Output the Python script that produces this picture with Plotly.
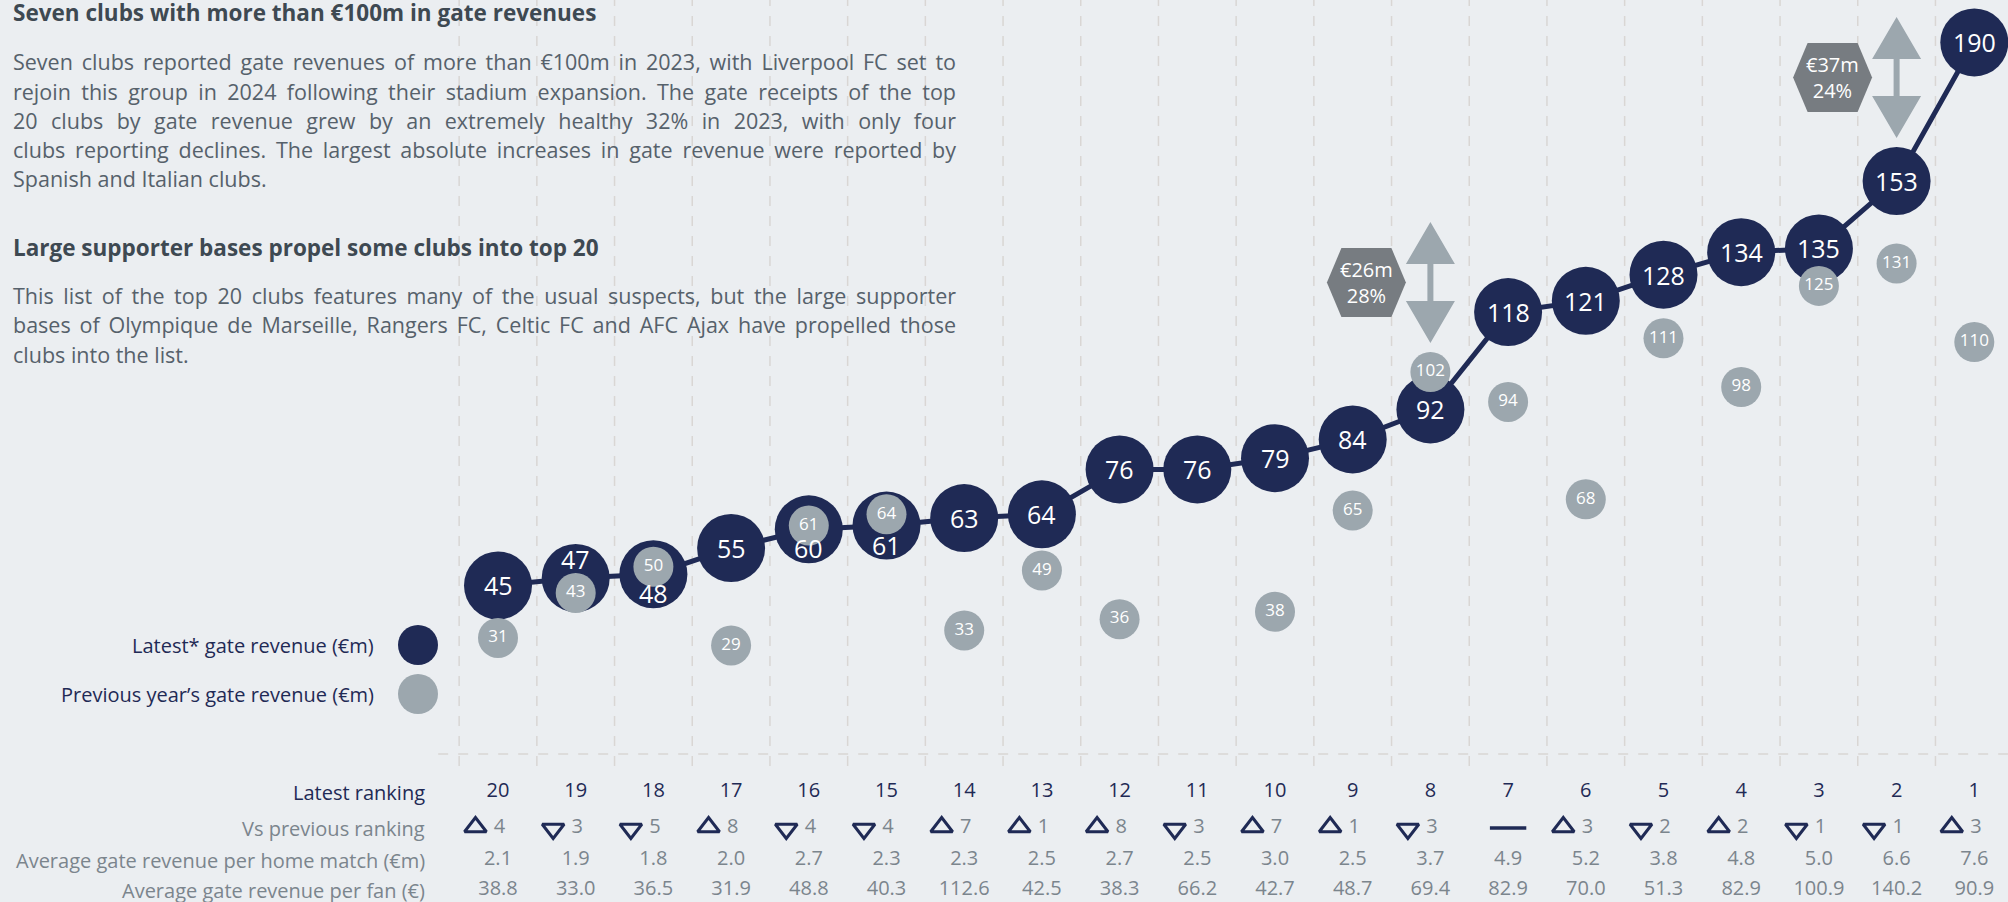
import json

import plotly.graph_objects as go

# ---- data -----------------------------------------------------------------
ranks = list(range(20, 0, -1))
latest = [45, 47, 48, 55, 60, 61, 63, 64, 76, 76, 79, 84, 92, 118, 121, 128, 134, 135, 153, 190]
previous = [31, 43, 50, 29, 61, 64, 33, 49, 36, None, 38, 65, 102, 94, 68, 111, 98, 125, 131, 110]
rank_change = [4, -3, -5, 8, -4, -4, 7, 1, 8, -3, 7, 1, -3, 0, 3, -2, 2, -1, -1, 3]
per_match = [2.1, 1.9, 1.8, 2.0, 2.7, 2.3, 2.3, 2.5, 2.7, 2.5, 3.0, 2.5, 3.7, 4.9, 5.2, 3.8, 4.8, 5.0, 6.6, 7.6]
per_fan = [38.8, 33.0, 36.5, 31.9, 48.8, 40.3, 112.6, 42.5, 38.3, 66.2, 42.7, 48.7, 69.4, 82.9, 70.0, 51.3,
           82.9, 100.9, 140.2, 90.9]
callout_ranks = [8, 2]  # gap to the club one place above

row_labels = ["Latest ranking", "Vs previous ranking",
              "Average gate revenue per home match (€m)", "Average gate revenue per fan (€)"]
legend_labels = ["Latest* gate revenue (€m)", "Previous year’s gate revenue (€m)"]

heading1 = "Seven clubs with more than €100m in gate revenues"
para1 = [
    "Seven clubs reported gate revenues of more than €100m in 2023, with Liverpool FC set to",
    "rejoin this group in 2024 following their stadium expansion. The gate receipts of the top",
    "20 clubs by gate revenue grew by an extremely healthy 32% in 2023, with only four",
    "clubs reporting declines. The largest absolute increases in gate revenue were reported by",
    "Spanish and Italian clubs.",
]
heading2 = "Large supporter bases propel some clubs into top 20"
para2 = [
    "This list of the top 20 clubs features many of the usual suspects, but the large supporter",
    "bases of Olympique de Marseille, Rangers FC, Celtic FC and AFC Ajax have propelled those",
    "clubs into the list.",
]

# ---- style ----------------------------------------------------------------
W, H = 2008, 902
BG = "#EBEEF1"
NAVY = "#1F2A55"
GREY = "#9CA7AE"
HEX = "#777C81"
HEAD = "#3E4952"
BODY = "#56616B"
TABLE_GREY = "#7B858D"
DASH = "#D9D6D4"
FONT = "Open Sans"

COL_PX, FIRST_COL_PX = 77.7, 498      # column spacing / first column centre
ZERO_PX, UNIT_PX = 754, 3.745         # baseline pixel / pixels per €m
TEXT_LEFT, TEXT_RIGHT = 11, 954       # justified text block

x_range = [-FIRST_COL_PX / COL_PX, (W - FIRST_COL_PX) / COL_PX]
y_range = [-(H - ZERO_PX) / UNIT_PX, ZERO_PX / UNIT_PX]


def ypx(p):
    """pixel row (from top) -> y data value"""
    return (ZERO_PX - p) / UNIT_PX


def paper_y(p):
    return 1 - p / H


xs = list(range(len(ranks)))
fig = go.Figure()

# dashed grid
shapes = []
for i in range(len(ranks) + 1):
    shapes.append(dict(type="line", xref="x", yref="y", x0=i - 0.5, x1=i - 0.5, y0=ypx(766), y1=y_range[1],
                       line=dict(color=DASH, width=1.5, dash="10px,10px"), layer="below"))
shapes.append(dict(type="line", xref="x", yref="y", x0=-0.77, x1=x_range[1], y0=0, y1=0,
                   line=dict(color=DASH, width=1.5, dash="10px,10px"), layer="below"))

# line + bubbles
fig.add_trace(go.Scatter(x=xs, y=latest, mode="lines", line=dict(color=NAVY, width=5), hoverinfo="skip"))
fig.add_trace(go.Scatter(x=xs, y=latest, mode="markers", marker=dict(size=68, color=NAVY), hoverinfo="skip"))
px_ = [x for x, v in zip(xs, previous) if v is not None]
pv = [v for v in previous if v is not None]
fig.add_trace(go.Scatter(x=px_, y=pv, mode="markers+text", text=[str(v) for v in pv],
                         textposition="middle center", textfont=dict(family=FONT, size=17, color="white"),
                         marker=dict(size=40, color=GREY), hoverinfo="skip"))

annotations = []
for x, cur, prev in zip(xs, latest, previous):
    shift = 0
    if prev is not None and abs(cur - prev) < 8:
        shift = 19 if cur >= prev else -19
    annotations.append(dict(x=x, y=cur, xref="x", yref="y", text=str(cur), showarrow=False, yshift=shift,
                            font=dict(family=FONT, size=25, color="white")))

# callouts: hexagon + double arrow
for r in callout_ranks:
    i = ranks.index(r)
    j = ranks.index(r - 1)
    gap = latest[j] - latest[i]
    pct = round(gap / latest[i] * 100)
    prev = previous[i]
    if prev is not None and prev > latest[i]:
        anchor, rad = prev, 20
    else:
        anchor, rad = latest[i], 34
    b = rad + 9
    arrow = [(0, b), (24.5, b + 42), (3, b + 42), (3, b + 79), (24.5, b + 79), (0, b + 121),
             (-24.5, b + 79), (-3, b + 79), (-3, b + 42), (-24.5, b + 42)]
    path = "M " + " L ".join(f"{px} {py}" for px, py in arrow) + " Z"
    shapes.append(dict(type="path", xref="x", yref="y", xsizemode="pixel", ysizemode="pixel",
                       xanchor=i, yanchor=anchor, path=path, fillcolor=GREY, line=dict(width=0)))
    cy = b + 60.5
    cx = -64
    hexa = [(-39.5, 0), (-25, 34.5), (25, 34.5), (39.5, 0), (25, -34.5), (-25, -34.5)]
    path = "M " + " L ".join(f"{cx + px} {cy + py}" for px, py in hexa) + " Z"
    shapes.append(dict(type="path", xref="x", yref="y", xsizemode="pixel", ysizemode="pixel",
                       xanchor=i, yanchor=anchor, path=path, fillcolor=HEX, line=dict(width=0)))
    annotations.append(dict(x=i, y=anchor, xref="x", yref="y", xshift=cx, yshift=cy, showarrow=False,
                            text=f"€{gap}m<br>{pct}%", font=dict(family=FONT, size=20, color="white")))

# ---- table below ---------------------------------------------------------
TS = 20
row_px = [792, 828, 860, 890]
fig.add_trace(go.Scatter(x=xs, y=[ypx(row_px[0])] * len(xs), mode="text", text=[str(r) for r in ranks],
                         textfont=dict(family=FONT, size=TS, color=NAVY), hoverinfo="skip"))
up = [x - 0.29 for x, c in zip(xs, rank_change) if c > 0]
down = [x - 0.29 for x, c in zip(xs, rank_change) if c < 0]
same = [x for x, c in zip(xs, rank_change) if c == 0]
fig.add_trace(go.Scatter(x=up, y=[ypx(row_px[1] - 1)] * len(up), mode="markers",
                         marker=dict(symbol="triangle-up-open", size=19, color=NAVY, line=dict(width=3, color=NAVY)),
                         hoverinfo="skip"))
fig.add_trace(go.Scatter(x=down, y=[ypx(row_px[1] + 1)] * len(down), mode="markers",
                         marker=dict(symbol="triangle-down-open", size=19, color=NAVY, line=dict(width=3, color=NAVY)),
                         hoverinfo="skip"))
fig.add_trace(go.Scatter(x=same, y=[ypx(row_px[1])] * len(same), mode="markers",
                         marker=dict(symbol="line-ew", size=26, color=NAVY, line=dict(width=3.5, color=NAVY)),
                         hoverinfo="skip"))
chg_x = [x + 0.02 for x, c in zip(xs, rank_change) if c != 0]
chg_t = [str(abs(c)) for c in rank_change if c != 0]
fig.add_trace(go.Scatter(x=chg_x, y=[ypx(row_px[1])] * len(chg_x), mode="text", text=chg_t,
                         textfont=dict(family=FONT, size=TS, color=TABLE_GREY), hoverinfo="skip"))
for p, vals in zip(row_px[2:], [per_match, per_fan]):
    fig.add_trace(go.Scatter(x=xs, y=[ypx(p)] * len(xs), mode="text", text=[f"{v:.1f}" for v in vals],
                             textfont=dict(family=FONT, size=TS, color=TABLE_GREY), hoverinfo="skip"))

for k, (lab, p) in enumerate(zip(row_labels, row_px)):
    annotations.append(dict(x=427 / W, y=paper_y(p), xref="paper", yref="paper", xanchor="right",
                            yanchor="middle", showarrow=False, text=lab,
                            font=dict(family=FONT, size=TS, color=NAVY if k == 0 else TABLE_GREY)))

# ---- legend ----------------------------------------------------------------
for lab, p, col in zip(legend_labels, [645, 694], [NAVY, GREY]):
    annotations.append(dict(x=376 / W, y=paper_y(p), xref="paper", yref="paper", xanchor="right",
                            yanchor="middle", showarrow=False, text=lab,
                            font=dict(family=FONT, size=20, color=NAVY)))
    shapes.append(dict(type="circle", xref="paper", yref="paper", xsizemode="pixel", ysizemode="pixel",
                       xanchor=418 / W, yanchor=paper_y(p), x0=-20, x1=20, y0=-20, y1=20,
                       fillcolor=col, line=dict(width=0)))


# ---- text block ------------------------------------------------------------
def add_line(text, p, size, color, bold=False):
    annotations.append(dict(x=TEXT_LEFT / W, y=paper_y(p), xref="paper", yref="paper", xanchor="left",
                            align="left", yanchor="middle", showarrow=False,
                            text=f"<b>{text}</b>" if bold else text,
                            font=dict(family=FONT, size=size, color=color)))


add_line(heading1, 13, 22.5, HEAD, bold=True)
for k, t in enumerate(para1):
    add_line(t, 62 + k * 29.2, 21.5, BODY)
add_line(heading2, 247, 22.5, HEAD, bold=True)
for k, t in enumerate(para2):
    add_line(t, 295 + k * 29.8, 21.5, BODY)

fig.update_layout(
    width=W, height=H, margin=dict(l=0, r=0, t=0, b=0),
    paper_bgcolor=BG, plot_bgcolor=BG, showlegend=False,
    xaxis=dict(range=x_range, visible=False, fixedrange=True),
    yaxis=dict(range=y_range, visible=False, fixedrange=True),
    shapes=shapes, annotations=annotations,
)

# page without body margin; paragraph lines (except the last of each) justified
justify = json.dumps(para1[:-1] + para2[:-1])
post = f"""
document.body.style.margin = '0';
document.body.style.background = '{BG}';
var justifyLines = {justify};
function justifyText() {{
  document.querySelectorAll('text.annotation-text').forEach(function (t) {{
    if (justifyLines.indexOf(t.textContent) < 0) return;
    t.style.wordSpacing = '0px';
    var n = (t.textContent.match(/ /g) || []).length;
    var extra = {TEXT_RIGHT - TEXT_LEFT} - t.getComputedTextLength();
    if (n > 0 && extra > 0) t.style.wordSpacing = (extra / n) + 'px';
  }});
}}
justifyText();
setTimeout(justifyText, 50);
"""
fig.write_html("out.html", config={"displayModeBar": False}, post_script=post)
